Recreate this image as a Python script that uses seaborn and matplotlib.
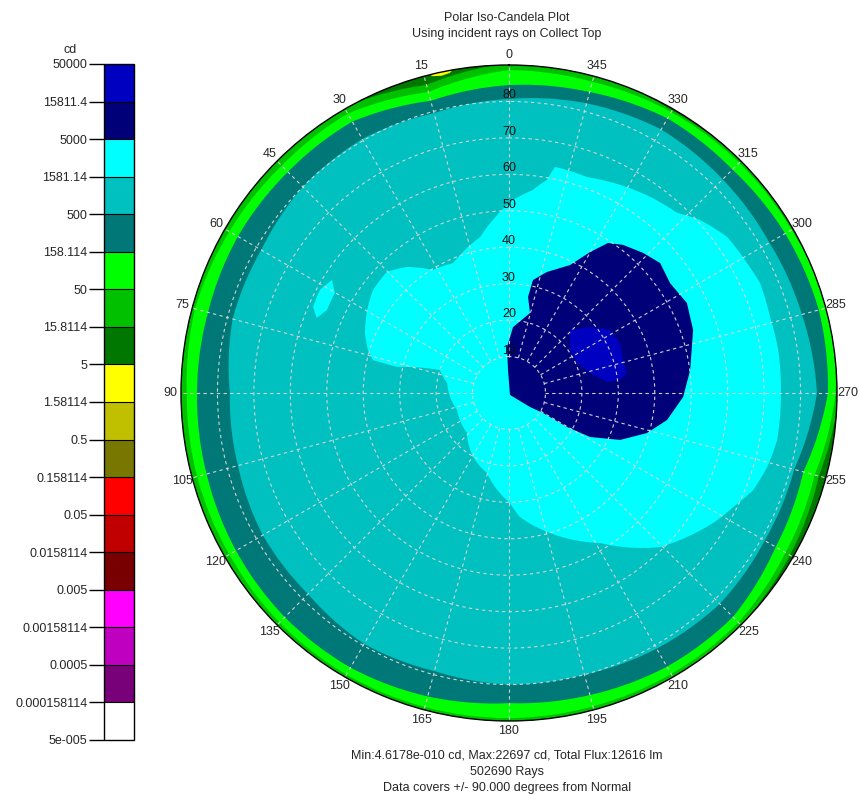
import numpy as np
import matplotlib
matplotlib.use('Agg')
import matplotlib.pyplot as plt
from matplotlib.path import Path
from matplotlib.patches import PathPatch
from matplotlib.colors import ListedColormap, BoundaryNorm
from matplotlib.cm import ScalarMappable
import seaborn as sns

# colour scale, cd
levels = [5e-5, 0.000158114, 0.0005, 0.00158114, 0.005, 0.0158114, 0.05, 0.158114,
          0.5, 1.58114, 5, 15.8114, 50, 158.114, 500, 1581.14, 5000, 15811.4, 50000]
level_labels = ['5e-005', '0.000158114', '0.0005', '0.00158114', '0.005', '0.0158114',
                '0.05', '0.158114', '0.5', '1.58114', '5', '15.8114', '50', '158.114',
                '500', '1581.14', '5000', '15811.4', '50000']
band_colors = ['#ffffff', '#780078', '#c000c0', '#ff00ff', '#780000', '#c00000', '#ff0000',
               '#787800', '#c0c000', '#ffff00', '#007800', '#00c000', '#00ff00', '#007878',
               '#00c0c0', '#00ffff', '#000078', '#0000c0']

# outer iso-candela rings: degrees from normal where each level is crossed
ring_az = [0, 15, 30, 45, 60, 75, 90, 105, 120, 135, 150, 165,
           180, 195, 210, 225, 240, 255, 270, 285, 300, 315, 330, 345]
ring_15 = [90.5, 87.5, 90.5, 90.5, 90.5, 90.5, 90.5, 90.5, 90.5, 90.5, 90.5, 90.5,
           90.5, 90.5, 90.5, 90.0, 89.0, 88.0, 90.5, 90.5, 90.5, 90.0, 89.5, 90.5]
ring_50 = [88.6, 85.5, 88.5, 88.2, 88.6, 89.2, 88.4, 88.6, 88.6, 89.0, 89.2, 89.2,
           89.2, 89.0, 89.0, 89.0, 87.6, 86.8, 89.6, 90.5, 89.5, 89.3, 89.0, 88.4]
ring_158 = [84.5, 83.0, 86.0, 85.8, 85.9, 85.5, 85.6, 85.9, 86.5, 87.0, 87.0, 86.2,
            85.1, 85.8, 86.7, 86.9, 84.5, 83.6, 87.5, 88.0, 87.5, 86.7, 87.0, 85.5]
ring_500 = [80.7, 79.5, 80.5, 80.0, 78.5, 78.5, 76.6, 77.0, 78.0, 78.0, 79.5, 79.0,
            80.0, 80.0, 81.0, 81.8, 81.0, 81.0, 84.5, 83.2, 82.5, 82.9, 83.5, 82.3]

# low patch (< 5 cd) at the rim
low_az = [9.5, 10.5, 12.0, 13.5, 14.5]
low_theta = [90.5, 89.3, 89.0, 89.4, 90.5]

# 1581 cd contour (azimuth, theta)
cyan_az = [-11.5, -10.1, -6.7, -1.2, 10.5, 23.3, 31.7, 39.0, 45.2, 52.9, 59.7, 67.4,
           73.0, 76.4, 76.9, 71.6, 80.8, 93.9, 108.1, 133.6, 150.6, 164.6, 174.9, 180.5,
           185.1, 196.3, 211.2, 224.4, 231.0, 237.5, 243.0, 248.3, 254.0, 260.0, 270.0,
           279.1, 286.2, 293.7, 298.6, 305.6, 312.2, 317.0, 324.3, 330.2, 340.1, 345.4]
cyan_theta = [63.3, 59.4, 56.1, 53.0, 43.5, 38.8, 39.7, 44.5, 47.2, 46.8, 45.1, 42.8,
              40.5, 38.4, 31.6, 20.0, 17.2, 16.2, 15.0, 15.9, 20.1, 22.8, 27.6, 30.2,
              34.2, 40.0, 48.1, 59.2, 62.8, 66.4, 69.0, 72.1, 73.7, 74.7, 74.6,
              74.8, 74.6, 75.2, 74.4, 73.6, 70.7, 67.6, 66.3, 65.1, 63.0, 63.2]

# small 1581 cd island
island_az = [57.4, 60.1, 65.5, 68.7, 66.3, 61.4]
island_theta = [57.6, 55.1, 54.9, 56.6, 58.7, 59.1]

# 5000 cd contour
navy_az = [326.6, 330.1, 334.5, 342.6, 348.0, 348.8, 345.3, 356.5, 2.5, 2.5, 206.6,
           236.3, 239.5, 239.6, 241.5, 247.1, 253.8, 260.3, 268.7, 277.2, 288.9,
           296.8, 304.3, 310.7, 316.3, 322.4]
navy_theta = [49.3, 44.6, 38.9, 34.8, 31.7, 26.9, 22.7, 18.1, 12.6, 6.3, 0.6,
              6.9, 10.8, 18.4, 25.3, 33.1, 39.4, 44.0, 47.8, 50.1, 53.4,
              54.7, 53.5, 54.7, 53.2, 51.3]

# 15811 cd contour
blue_az = [315.9, 309.2, 302.0, 294.2, 286.1, 279.6, 276.7, 276.4, 283.9, 293.8, 305.2, 311.0]
blue_theta = [24.1, 28.7, 32.7, 33.4, 32.6, 32.8, 30.7, 27.1, 22.9, 20.4, 20.5, 22.2]

theta_ticks = [0, 15, 30, 45, 60, 75, 90, 105, 120, 135, 150, 165,
               180, 195, 210, 225, 240, 255, 270, 285, 300, 315, 330, 345]
r_ticks = [10, 20, 30, 40, 50, 60, 70, 80]

sns.set_style('white')
plt.rcParams['font.family'] = ['Liberation Sans', 'DejaVu Sans']
plt.rcParams['font.size'] = 9
palette = sns.color_palette(band_colors)
grid_kw = dict(color='#d2d2d2', linestyle=(0, (3, 3)), linewidth=0.8)


def draw_region(ax, az, theta, color, around=False, steps=12):
    # closed contour drawn in the polar data space;
    # contours that go round the pole close one full turn later
    az = list(az) + [az[0] + 360 if around else az[0]]
    theta = list(theta) + [theta[0]]
    verts = np.column_stack([np.radians(az), theta])
    ax.add_patch(PathPatch(Path(verts, _interpolation_steps=steps),
                           facecolor=color, edgecolor='none', zorder=1))


fig = plt.figure(figsize=(8.59, 7.95), dpi=100)
ax = fig.add_axes([181 / 859, 74 / 795, 656 / 859, 656 / 795], projection='polar')
ax.set_theta_zero_location('N')
ax.set_theta_direction(1)
ax.set_facecolor(palette[10])

draw_region(ax, low_az, low_theta, palette[9])
draw_region(ax, ring_az, ring_15, palette[11], around=True)
draw_region(ax, ring_az, ring_50, palette[12], around=True)
draw_region(ax, ring_az, ring_158, palette[13], around=True)
draw_region(ax, ring_az, ring_500, palette[14], around=True)
draw_region(ax, cyan_az, cyan_theta, palette[15], around=True)
draw_region(ax, island_az, island_theta, palette[15])
draw_region(ax, navy_az, navy_theta, palette[16], steps=1)
draw_region(ax, blue_az, blue_theta, palette[17], steps=1)

ax.set_ylim(0, 90)
ax.set_axisbelow(False)
ax.set_thetagrids(theta_ticks, labels=[str(t) for t in theta_ticks])
ax.set_rgrids(r_ticks, labels=[])
ax.yaxis.grid(True, **grid_kw)
ax.xaxis.grid(False)
# spokes start at the 10 degree ring
for t in theta_ticks:
    ax.plot([np.radians(t)] * 2, [r_ticks[0], 90], zorder=2.5, **grid_kw)
for r in r_ticks:
    ax.text(0, r, str(r), ha='center', va='bottom', fontsize=9, color='#101010', zorder=3)
ax.tick_params(axis='x', length=0, pad=0.5, labelsize=9)
ax.spines['polar'].set_color('black')
ax.spines['polar'].set_linewidth(1)

# colour key
cax = fig.add_axes([104 / 859, 55 / 795, 30 / 859, 676 / 795])
cmap = ListedColormap(band_colors)
norm = BoundaryNorm(levels, cmap.N)
cb = fig.colorbar(ScalarMappable(norm=norm, cmap=cmap), cax=cax, spacing='uniform',
                  ticks=levels, drawedges=True)
cb.ax.yaxis.set_ticks_position('left')
cb.set_ticklabels(level_labels)
cb.ax.tick_params(length=11, width=1, color='black', labelsize=9, pad=1)
cb.outline.set_linewidth(1)
cb.outline.set_edgecolor('black')
cb.dividers.set_color('black')
cb.dividers.set_linewidth(0.8)
fig.text(70 / 859, 1 - 50 / 795, 'cd', ha='center', va='center', fontsize=9)

fig.text(507 / 859, 1 - 18 / 795, 'Polar Iso-Candela Plot', ha='center', va='center', fontsize=9)
fig.text(507 / 859, 1 - 33.5 / 795, 'Using incident rays on Collect Top', ha='center', va='center', fontsize=9)
fig.text(507 / 859, 1 - 756 / 795, 'Min:4.6178e-010 cd, Max:22697 cd, Total Flux:12616 lm',
         ha='center', va='center', fontsize=9)
fig.text(507 / 859, 1 - 772 / 795, '502690 Rays', ha='center', va='center', fontsize=9)
fig.text(507 / 859, 1 - 787.5 / 795, 'Data covers +/- 90.000 degrees from Normal',
         ha='center', va='center', fontsize=9)

fig.savefig('out.png', dpi=100)
